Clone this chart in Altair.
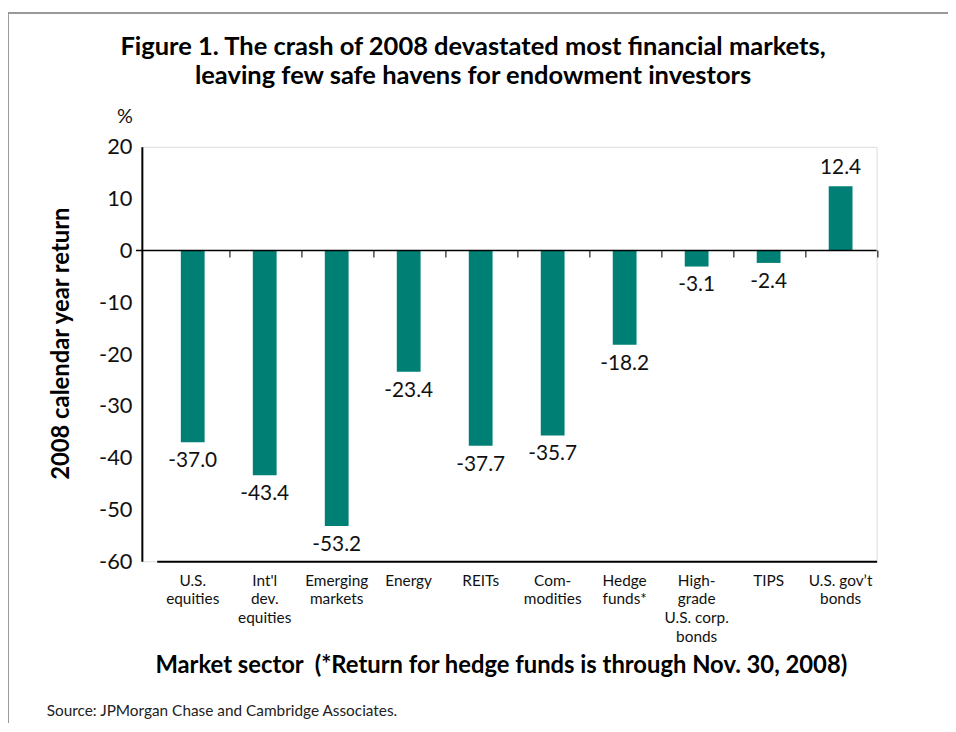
import altair as alt
import pandas as pd

categories = ["U.S.\nequities", "Int'l\ndev.\nequities", "Emerging\nmarkets", "Energy", "REITs",
              "Com-\nmodities", "Hedge\nfunds*", "High-\ngrade\nU.S. corp.\nbonds", "TIPS", "U.S. gov\u2019t\nbonds"]
returns = [-37.0, -43.4, -53.2, -23.4, -37.7, -35.7, -18.2, -3.1, -2.4, 12.4]
y_ticks = [20, 10, 0, -10, -20, -30, -40, -50, -60]
title_lines = ["Figure 1. The crash of 2008 devastated most financial markets,",
               "leaving few safe havens for endowment investors"]

df = pd.DataFrame({
    "cat": categories,
    "ret": returns,
    "label": [f"{v:.1f}" for v in returns],
})

FONT = "Lato"
TEAL = "#007f74"
W, H = 741, 418

xscale = alt.Scale(domain=categories, paddingInner=0, paddingOuter=0, range=[15, W])
yscale = alt.Scale(domain=[-60, 20], nice=False, zero=False)

base = alt.Chart(df)

bars = base.mark_bar(color=TEAL, width=24).encode(
    x=alt.X("cat:N", scale=xscale, sort=None,
            axis=alt.Axis(title="Market sector \u00a0(*Return for hedge funds is through Nov. 30, 2008)",
                          titleFont=FONT, titleFontSize=24, titleFontWeight="bold", titleColor="#000",
                          titleX=362, titleY=105, titleBaseline="middle",
                          labelExpr="split(datum.label, '\\n')", labelAngle=0,
                          labelFont=FONT, labelFontSize=15.5, labelColor="#111", labelLineHeight=19,
                          labelPadding=12, labelBaseline="top",
                          ticks=False, domainColor="#000", domainWidth=2, grid=False)),
    y=alt.Y("ret:Q", scale=yscale,
            axis=alt.Axis(values=y_ticks, title="2008 calendar year return",
                          titleFont=FONT, titleFontSize=24, titleFontWeight="bold", titleColor="#000",
                          titleX=-81, titleY=198, titleAngle=-90, titleAlign="center",
                          titleBaseline="middle",
                          labelExpr="datum.value + ''",
                          labelFont=FONT, labelFontSize=22, labelColor="#111", labelPadding=10,
                          ticks=False, domainColor="#000", domainWidth=2, grid=False)),
)

neg_labels = base.transform_filter("datum.ret < 0").mark_text(
    font=FONT, fontSize=21, color="#111", baseline="top", dy=8
).encode(x=alt.X("cat:N", scale=xscale, sort=None), y=alt.Y("ret:Q", scale=yscale), text="label:N")

pos_labels = base.transform_filter("datum.ret >= 0").mark_text(
    font=FONT, fontSize=21, color="#111", baseline="bottom", dy=-8
).encode(x=alt.X("cat:N", scale=xscale, sort=None), y=alt.Y("ret:Q", scale=yscale), text="label:N")

zero_line = alt.Chart(pd.DataFrame({"z": [0]})).mark_rule(color="#000", strokeWidth=1.5).encode(
    y=alt.Y("z:Q", scale=yscale), x=alt.value(-6), x2=alt.value(W)
)

sep_ticks = base.transform_calculate(zero="0").mark_tick(
    color="#000", thickness=1.5, size=7, yOffset=3.5, xOffset=37.5, orient="vertical"
).encode(
    x=alt.X("cat:N", scale=xscale, sort=None),
    y=alt.Y("zero:Q", scale=yscale),
)

pct = alt.Chart(pd.DataFrame({"t": ["%"]})).mark_text(
    font=FONT, fontSize=20, color="#111", align="center", baseline="middle"
).encode(text="t:N", x=alt.value(-17), y=alt.value(-30))

source = alt.Chart(pd.DataFrame({"t": ["Source: JPMorgan Chase and Cambridge Associates."]})).mark_text(
    font=FONT, fontSize=15.5, color="#222", align="left", baseline="middle"
).encode(text="t:N", x=alt.value(-96), y=alt.value(569))

title1 = alt.Chart(pd.DataFrame({"t": [title_lines[0]]})).mark_text(
    font=FONT, fontSize=25.7, fontWeight="bold", color="#000", align="center", baseline="middle"
).encode(text="t:N", x=alt.value(334), y=alt.value(-101))
title2 = alt.Chart(pd.DataFrame({"t": [title_lines[1]]})).mark_text(
    font=FONT, fontSize=25.7, fontWeight="bold", color="#000", align="center", baseline="middle"
).encode(text="t:N", x=alt.value(334), y=alt.value(-71))

frame_top = alt.Chart(pd.DataFrame({"a": [0]})).mark_rule(color="#999", strokeWidth=2).encode(
    x=alt.value(-135), x2=alt.value(W + 72), y=alt.value(-135)
)
frame_left = alt.Chart(pd.DataFrame({"a": [0]})).mark_rule(color="#999", strokeWidth=2).encode(
    x=alt.value(-135), y=alt.value(-135), y2=alt.value(600)
)

chart = alt.layer(
    frame_top, frame_left, bars, zero_line, sep_ticks, neg_labels, pos_labels,
    pct, source, title1, title2
).properties(
    width=W, height=H,
    autosize=alt.AutoSizeParams(type="none"),
    padding={"left": 135, "top": 137, "right": 72, "bottom": 160},
).configure_view(stroke=None).configure(background="white")

chart.save("out.html", embed_options={"renderer": "svg", "actions": False})
